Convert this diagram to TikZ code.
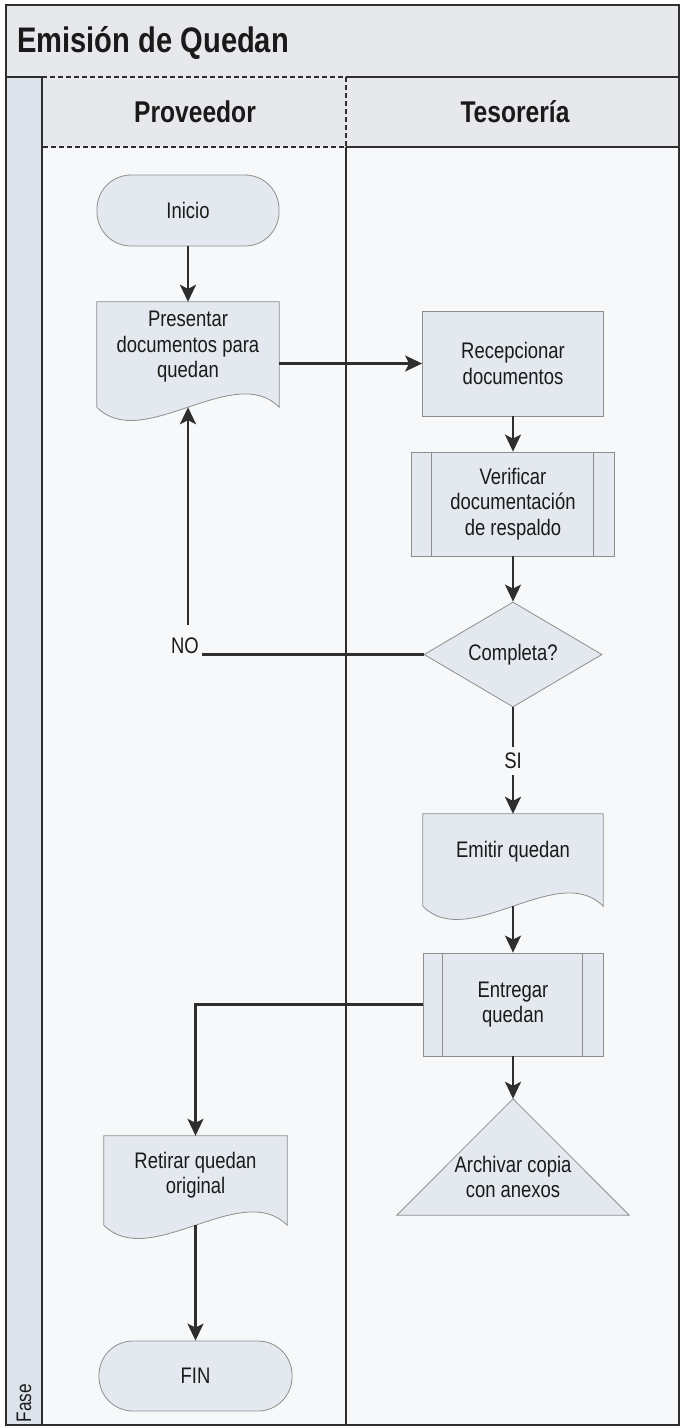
\documentclass[tikz,border=0pt]{standalone}
\usepackage{fontspec}
\setmainfont{Liberation Sans}[FakeStretch=0.82]
\usetikzlibrary{arrows.meta,shapes.geometric,calc}

\definecolor{ink}{HTML}{1A1A1A}
\definecolor{rule}{HTML}{2E2E2E}
\definecolor{bandfill}{HTML}{E6E8EB}
\definecolor{stripfill}{HTML}{DCE3EB}
\definecolor{lanefill}{HTML}{F6F8FA}
\definecolor{boxfill}{HTML}{E4E9EF}
\definecolor{boxline}{HTML}{8E8E8E}

\begin{document}
\begin{tikzpicture}[x=1pt,y=-1pt,
  txt/.style={font=\fontsize{22.5}{25.5}\selectfont, align=center, text=ink, inner sep=0pt},
  lbl/.style={font=\fontsize{22.5}{25.5}\selectfont, text=ink, inner sep=1pt},
  boxstyle/.style={draw=boxline, fill=boxfill, line width=0.8pt},
  term/.style={boxstyle, rectangle, rounded corners=34pt, txt},
  procbox/.style={boxstyle, rectangle, txt},
  docbody/.style={rectangle, inner sep=0pt},
  decision/.style={boxstyle, diamond, aspect=1.7, inner sep=0pt,
                   minimum width=178pt, minimum height=105pt, txt},
  lane/.style={draw=rule, line width=1.3pt},
  lanedash/.style={draw=rule, line width=1.3pt, dash pattern=on 5pt off 3pt},
  conn/.style={draw=rule, line width=2.2pt, -{Stealth[length=17pt,width=16pt,inset=4pt]}},
  plainconn/.style={draw=rule, line width=2.2pt},
  heading/.style={font=\fontsize{30}{34}\selectfont\bfseries, text=ink, inner sep=0pt}
]
\useasboundingbox (0,0) rectangle (682,1428);
\fill[white] (0,0) rectangle (682,1428);

% --- pool background ---
\fill[lanefill] (42,147) rectangle (679,1425);
\fill[bandfill] (6,5) rectangle (679,77);
\fill[bandfill] (42,77) rectangle (679,147);
\fill[stripfill] (6,77) rectangle (42,1425);

% --- pool and lane borders ---
\draw[lane] (6,77) -- (42,77);
\draw[lane] (346,77) -- (679,77);
\draw[lanedash] (42,77) -- (346,77) -- (346,147) -- (42,147);
\draw[lane] (346,147) -- (679,147);
\draw[lane] (42,77) -- (42,1425);
\draw[lane] (346,147) -- (346,1425);
\draw[draw=rule, line width=2pt] (6,5) rectangle (679,1425);

% --- titles ---
\node[font=\fontsize{35.5}{40}\selectfont\bfseries, text=ink, inner sep=0pt, anchor=west] (title) at (17,43) {Emisión de Quedan};
\node[heading] (hprov) at (195,112) {Proveedor};
\node[heading] (htes) at (515,112) {Tesorería};
\node[font=\fontsize{21}{24}\selectfont, text=ink, inner sep=0pt, rotate=90] (fase) at (24,1403) {Fase};

% --- Proveedor lane ---
\node[term, minimum width=182pt, minimum height=71pt] (ini) at (188,210.5) {Inicio};

\node[docbody, minimum width=182pt, minimum height=105pt] (pres) at (188,354.5) {};
\draw[boxstyle] (pres.north west) -- (pres.north east) -- (pres.south east)
  .. controls +(-45,-46) and +(45,46) .. (pres.south west) -- cycle;
\node[txt] (presT) at (188,347) {Presentar\\documentos para\\quedan};

\node[docbody, minimum width=183pt, minimum height=89pt] (ret) at (195.5,1180.5) {};
\draw[boxstyle] (ret.north west) -- (ret.north east) -- (ret.south east)
  .. controls +(-46,-46) and +(46,46) .. (ret.south west) -- cycle;
\node[txt] (retT) at (195.5,1175) {Retirar quedan\\original};

\node[term, minimum width=193pt, minimum height=70pt] (fin) at (195.5,1376) {FIN};

% --- Tesorería lane ---
\node[procbox, minimum width=181pt, minimum height=105pt] (rec) at (513,363.5) {Recepcionar\\documentos};

\node[procbox, minimum width=203pt, minimum height=104pt] (ver) at (513,504) {Verificar\\documentación\\de respaldo};
\draw[boxstyle] ([xshift=20pt]ver.north west) -- ([xshift=20pt]ver.south west);
\draw[boxstyle] ([xshift=-22pt]ver.north east) -- ([xshift=-22pt]ver.south east);

\node[decision] (dia) at (513,654.5) {Completa?};

\node[docbody, minimum width=180pt, minimum height=92pt] (emi) at (513,860) {};
\draw[boxstyle] (emi.north west) -- (emi.north east) -- (emi.south east)
  .. controls +(-45,-46) and +(45,46) .. (emi.south west) -- cycle;
\node[txt] (emiT) at (513,852) {Emitir quedan};

\node[procbox, minimum width=180pt, minimum height=103pt] (ent) at (513,1004.5) {Entregar\\quedan};
\draw[boxstyle] ([xshift=20pt]ent.north west) -- ([xshift=20pt]ent.south west);
\draw[boxstyle] ([xshift=-21pt]ent.north east) -- ([xshift=-21pt]ent.south east);

\node[docbody, minimum width=232pt, minimum height=116pt] (arch) at (513,1157) {};
\draw[boxstyle] (arch.north) -- (arch.south east) -- (arch.south west) -- cycle;
\node[txt] (archT) at (513,1177) {Archivar copia\\con anexos};

% --- connectors ---
\draw[conn] (ini.south) -- (pres.north);
\draw[conn] (pres.east |- rec.west) -- (rec.west);
\draw[conn] (rec.south) -- (ver.north);
\draw[conn] (ver.south) -- (dia.north);

\coordinate (noR) at (202,654.5);
\coordinate (noT) at (188,625);
\draw[plainconn] (dia.west) -- (noR);
\node[lbl, anchor=base east] (no) at (200,653) {NO};
\draw[conn] (noT) -- (pres.south);

\draw[conn] (dia.south) -- node[lbl, fill=lanefill, minimum height=28pt, pos=0.5] (si) {SI} (emi.north);
\draw[conn] (emi.south) -- (ent.north);
\draw[conn] (ent.south) -- (arch.north);
\draw[conn] (ent.west) -| (ret.north);
\draw[conn] (ret.south) -- (fin.north);
\end{tikzpicture}
\end{document}
